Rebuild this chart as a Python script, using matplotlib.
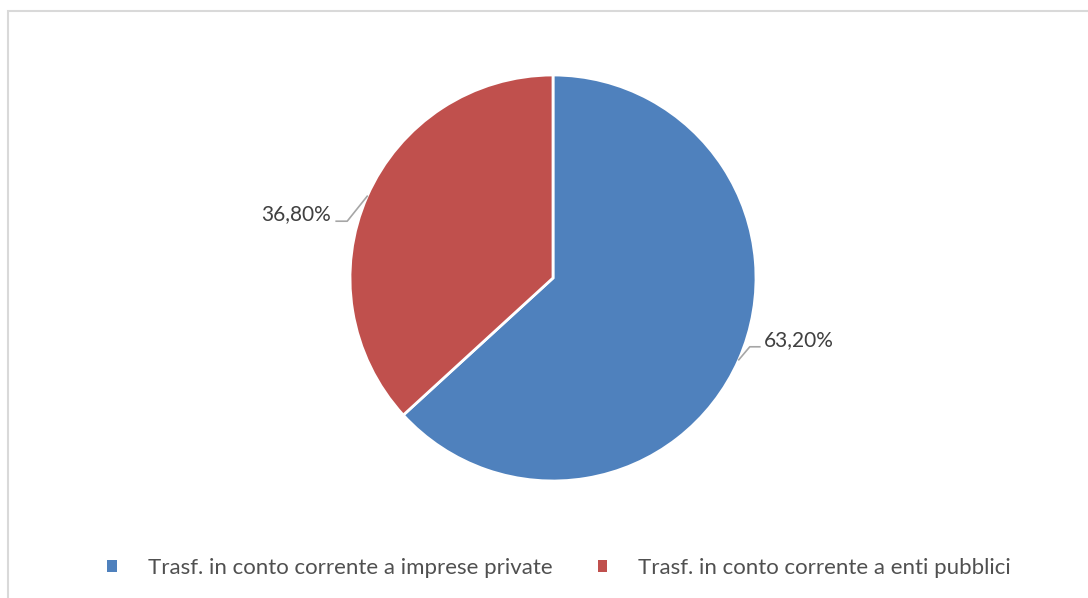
import numpy as np
import matplotlib.pyplot as plt
from matplotlib.patches import Rectangle

# quote sui trasferimenti correnti
categorie = ["Trasf. in conto corrente a imprese private",
             "Trasf. in conto corrente a enti pubblici"]
quote = [63.20, 36.80]
colori = ["#4F81BD", "#C0504D"]

# spostamenti (px) di gomito e tratto orizzontale delle linee guida
gomiti = [(11, 13), (-20, -25)]
tratti = [10, -11]

plt.rcParams['font.family'] = ['Lato', 'DejaVu Sans']
testo = '#404040'

W, H = 1088, 598
fig = plt.figure(figsize=(W / 100, H / 100), dpi=100)
ax = fig.add_axes([0, 0, 1, 1])

# cornice del grafico
ax.add_patch(Rectangle((8, -20), W + 20, H - 11 + 20, fill=False,
                       edgecolor='#D9D9D9', linewidth=1.5))

cx, cy, r = 553, 320, 203
wedges, _ = ax.pie(quote, colors=colori, startangle=90, counterclock=False,
                   center=(cx, cy), radius=r, frame=True,
                   wedgeprops=dict(edgecolor='white', linewidth=2))
ax.set_xlim(0, W)
ax.set_ylim(0, H)
ax.set_aspect('equal')
ax.axis('off')

for w, q, (gx, gy), t in zip(wedges, quote, gomiti, tratti):
    ang = np.deg2rad((w.theta1 + w.theta2) / 2)
    x0, y0 = cx + r * np.cos(ang), cy + r * np.sin(ang)
    x1, y1 = x0 + gx, y0 + gy
    x2 = x1 + t
    ax.plot([x0, x1, x2], [y0, y1, y1], color='#A6A6A6', linewidth=1.2)
    ha = 'left' if t > 0 else 'right'
    off = 4 if t > 0 else -5
    ax.text(x2 + off, y1 + 7, f"{q:.2f}%".replace('.', ','), ha=ha, va='center',
            fontsize=15, color=testo)

leg = ax.legend(wedges, categorie, loc='center', bbox_to_anchor=(0.514, 0.05),
                ncol=2, frameon=False, fontsize=16, handlelength=0.42,
                handleheight=0.42, handletextpad=1.4, columnspacing=2.05)
for t in leg.get_texts():
    t.set_color('#505050')
for h in leg.legend_handles:
    h.set_linewidth(0)

fig.savefig('out.png', dpi=100)
